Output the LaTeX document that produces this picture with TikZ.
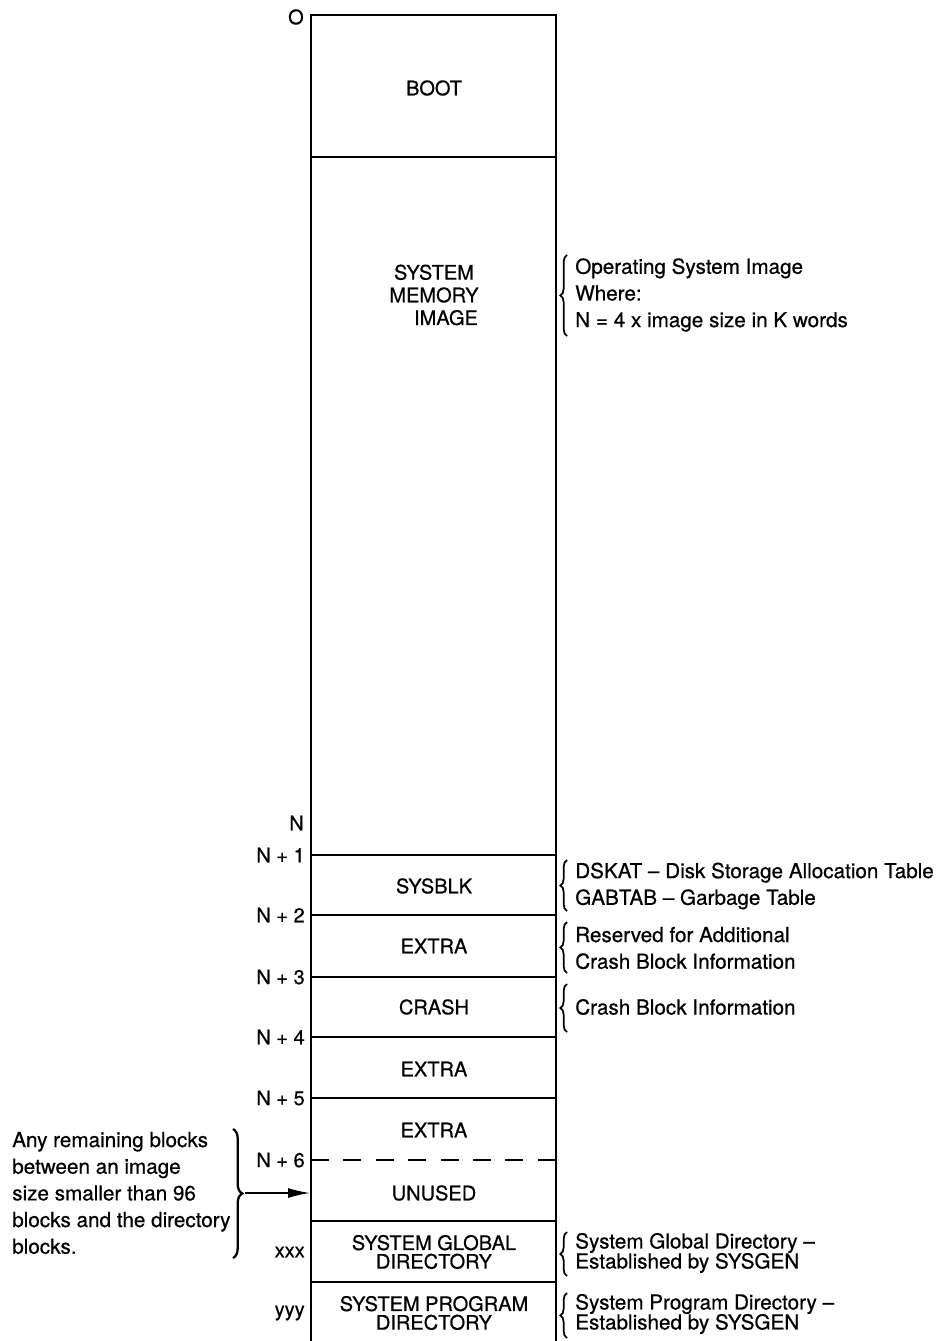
\documentclass[tikz,border=0pt]{standalone}
\usepackage{fontspec}
\setmainfont{TeX Gyre Heros}[FakeBold=0.6]
\usetikzlibrary{decorations.pathreplacing,arrows.meta}
\begin{document}
\begin{tikzpicture}[x=0.75pt,y=-0.75pt,
  every node/.style={font=\fontsize{15}{18}\selectfont, inner sep=0pt},
  blk/.style={align=center, font=\fontsize{15}{17}\selectfont},
  blk2/.style={align=center, font=\fontsize{15}{14}\selectfont},
  addr/.style={anchor=east},
  note/.style={anchor=west, align=left, font=\fontsize{15.5}{20}\selectfont},
  note2/.style={anchor=west, align=left, font=\fontsize{15.5}{15}\selectfont},
  brc/.style={decorate, decoration={brace, amplitude=5pt}, line width=1.3pt},
  wall/.style={line width=1.3pt},
  sep/.style={line width=1.3pt},
  dsep/.style={line width=1.1pt, dash pattern=on 13.5pt off 10.8pt}]
\useasboundingbox (0,0) rectangle (947,1341);

% outline of the disk layout
\coordinate (tl) at (311,15);
\coordinate (tr) at (556,15);
\coordinate (bl) at (311,1341);
\coordinate (br) at (556,1341);
\draw[wall] (bl) -- (tl) -- (tr) -- (br);

% separators
\foreach \y in {157,855,915,977,1037,1098,1221,1282}
  \draw[sep] (311,\y) -- (556,\y);
\draw[dsep] (311,1160) -- (556,1160);

% block labels
\node[blk] (boot) at (434,88) {BOOT};
\node[blk] (smi) at (434,295) {SYSTEM\\MEMORY\\\hspace*{1.2em}IMAGE};
\node[blk] (sysblk) at (434,886) {SYSBLK};
\node[blk] (extra1) at (434,946) {EXTRA};
\node[blk] (crash) at (434,1007) {CRASH};
\node[blk] (extra2) at (434,1069) {EXTRA};
\node[blk] (extra3) at (434,1130) {EXTRA};
\node[blk] (unused) at (434,1193) {UNUSED};
\node[blk2] (sgd) at (434,1252) {SYSTEM GLOBAL\\DIRECTORY};
\node[blk2] (spd) at (434,1313) {SYSTEM PROGRAM\\DIRECTORY};

% addresses
\node[addr] (a0) at (304,17) {O};
\node[addr] (aN) at (304,823) {N};
\node[addr] (aN1) at (305,855) {N + 1};
\node[addr] (aN2) at (305,915) {N + 2};
\node[addr] (aN3) at (305,977) {N + 3};
\node[addr] (aN4) at (305,1037) {N + 4};
\node[addr] (aN5) at (305,1098) {N + 5};
\node[addr] (aN6) at (305,1160) {N + 6};
\node[addr] (ax) at (305,1252) {xxx};
\node[addr] (ay) at (305,1313) {yyy};

% right-hand notes
\draw[brc] (567,336) -- (567,255);
\node[note] (n1) at (575,295) {Operating System Image\\Where:\\N = 4 x image size in K words};
\draw[brc] (567,911) -- (567,860);
\node[note] (n2) at (575,886) {DSKAT -- Disk Storage Allocation Table\\GABTAB -- Garbage Table};
\draw[brc] (567,973) -- (567,922);
\node[note] (n3) at (575,948) {Reserved for Additional\\Crash Block Information};
\draw[brc] (567,1032) -- (567,984);
\node[note] (n4) at (575,1007) {Crash Block Information};
\draw[brc] (567,1276) -- (567,1232);
\node[note2] (n5) at (575,1253) {System Global Directory --\\Established by SYSGEN};
\draw[brc] (567,1338) -- (567,1293);
\node[note2] (n6) at (575,1314) {System Program Directory --\\Established by SYSGEN};

% left-hand note
\node[anchor=west, align=left, font=\fontsize{15.5}{20}\selectfont] (left) at (12,1193)
  {Any remaining blocks\\between an image\\size smaller than 96\\blocks and the directory\\blocks.};
\draw[brc, line width=1.7pt, decoration={brace, amplitude=7pt}] (233,1129) -- (233,1258);
\coordinate (tip) at (245,1193);
\coordinate (aend) at (310,1193);
\draw[line width=1.2pt, -{Latex[length=16.5pt,width=7.5pt]}] (tip) -- (aend);
\end{tikzpicture}
\end{document}
